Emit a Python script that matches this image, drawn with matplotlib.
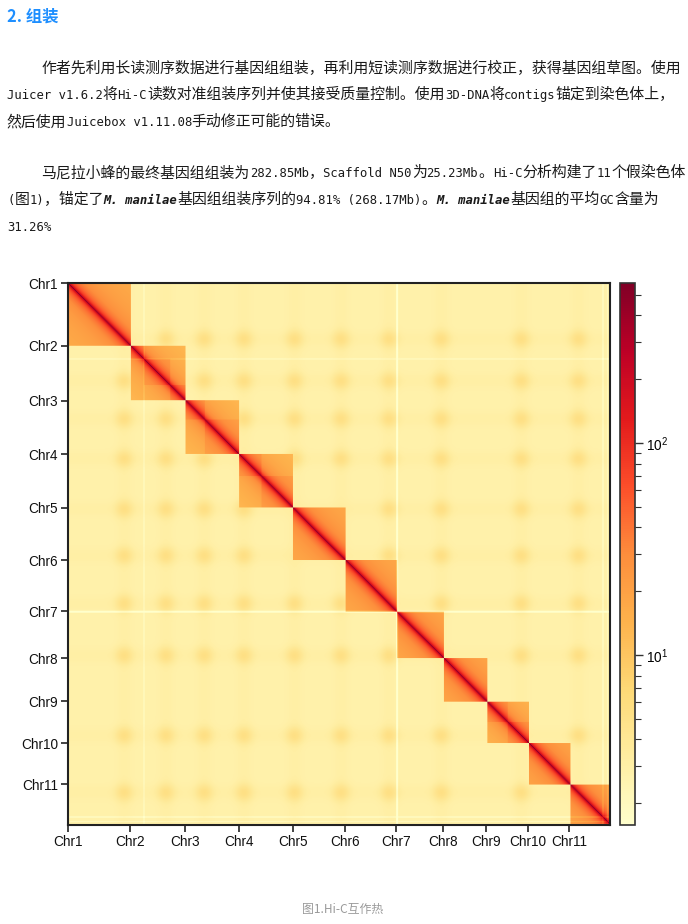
import numpy as np
import matplotlib
matplotlib.use("Agg")
import matplotlib.pyplot as plt
from matplotlib.colors import LogNorm

# ---------------- page text ----------------
heading = "2. 组装"
para_lines = [
    [("作者先利用长读测序数据进行基因组组装，再利用短读测序数据进行校正，获得基因组草图。使用", False)],
    [("Juicer v1.6.2将Hi-C读数对准组装序列并使其接受质量控制。使用3D-DNA将contigs锚定到染色体上，", False)],
    [("然后使用Juicebox v1.11.08手动修正可能的错误。", False)],
    [("马尼拉小蜂的最终基因组组装为282.85Mb，Scaffold N50为25.23Mb。Hi-C分析构建了11个假染色体", False)],
    [("(图1)，锚定了", False), ("M. manilae", True), ("基因组组装序列的94.81% (268.17Mb)。", False),
     ("M. manilae", True), ("基因组的平均GC含量为", False)],
    [("31.26%", False)],
]
caption = "图1.Hi-C互作热"

# ---------------- Hi-C data ----------------
chrom_names = ["Chr1", "Chr2", "Chr3", "Chr4", "Chr5", "Chr6",
               "Chr7", "Chr8", "Chr9", "Chr10", "Chr11"]
chrom_len_mb = [31.1, 27.1, 26.5, 26.5, 26.0, 25.2, 23.1, 21.4, 20.6, 20.4, 20.1]
centromere_mb = [27.7, 48.4, 67.2, 86.9, 111.8, 134.8, 158.5, 184.2, 223.7, 251.9]
subdomain_breaks_mb = [37.5, 50.6, 67.7, 95.3, 217.0]
gap_mb = [37.5, 162.4, 264.0, 266.2]
gap_keep = [0.8, 0.5, 0.75, 0.75]
diag_peak = 480.0
intra_floor = 13.0
inter_base = 2.75
spot_amp = 2.0
band_amp = 0.3
cbar_min, cbar_max = 1.58, 569.0

# ---------------- figure ----------------
W, H = 688, 924
fig = plt.figure(figsize=(W / 100, H / 100), dpi=100)
fig.patch.set_facecolor("white")

CJK = "Noto Sans CJK SC"
MONO = "DejaVu Sans Mono"
CJK_PT = 10.73
LAT_PT = 8.8
cjk_adv = CJK_PT / 72 * 100
lat_adv = LAT_PT / 72 * 100 * 0.6021
TXT = "#1a1a1a"


def split_runs(s):
    runs = []
    for ch in s:
        is_cjk = ord(ch) > 0x2000
        if runs and runs[-1][1] == is_cjk:
            runs[-1][0] += ch
        else:
            runs.append([ch, is_cjk])
    return runs


def draw_line(x_px, base_px, segments):
    x = x_px
    for s, italic in segments:
        for run, is_cjk in split_runs(s):
            if is_cjk:
                fig.text(x / W, 1 - base_px / H, run, family=[CJK, "DejaVu Sans"],
                         size=CJK_PT, color=TXT, va="baseline", ha="left")
                x += len(run) * cjk_adv
            else:
                fig.text(x / W, 1 - base_px / H, run, family=[MONO, CJK],
                         size=LAT_PT, color=TXT, va="baseline", ha="left",
                         style="italic" if italic else "normal",
                         weight="bold" if italic else "normal")
                x += len(run) * lat_adv


fig.text(7 / W, 1 - 22 / H, heading, family=[CJK, "DejaVu Sans"], size=11.8,
         weight="bold", color="#1e8fff", va="baseline", ha="left")

line_x = [41, 7, 7, 41, 7, 7]
line_base = [73, 99, 126, 177, 204, 231]
for segs, lx, lb in zip(para_lines, line_x, line_base):
    draw_line(lx, lb, segs)

# ---------------- matrix ----------------
bin_mb = 0.5
total = float(np.sum(chrom_len_mb))
n = int(np.ceil(total / bin_mb))
pos = (np.arange(n) + 0.5) * bin_mb
starts = np.concatenate([[0.0], np.cumsum(chrom_len_mb)])
cid = np.clip(np.searchsorted(starts, pos, side="right") - 1, 0, len(chrom_len_mb) - 1)
dom_bounds = np.sort(np.concatenate([starts, subdomain_breaks_mb]))
did = np.searchsorted(dom_bounds, pos, side="right") - 1

same_chr = cid[:, None] == cid[None, :]
same_dom = did[:, None] == did[None, :]
d = np.abs(pos[:, None] - pos[None, :])
intra = intra_floor + diag_peak / (1 + d / 0.4) ** 1.1
intra = intra * np.where(same_dom, 1.0, 0.75)

sig = 2.8
inter = np.full((n, n), inter_base)
cen_chr = np.clip(np.searchsorted(starts, centromere_mb, side="right") - 1, 0, len(chrom_len_mb) - 1)
gs = [np.exp(-(pos - a) ** 2 / (2 * sig ** 2)) for a in centromere_mb]
for i, ga in enumerate(gs):
    inter += band_amp * (ga[:, None] + ga[None, :])
    for j, gb in enumerate(gs):
        if cen_chr[i] != cen_chr[j]:
            inter += spot_amp * np.outer(ga, gb)

M = np.where(same_chr, intra, inter)
g = np.ones(n)
for gm, gk in zip(gap_mb, gap_keep):
    g[np.abs(pos - gm) < 0.4] = gk
M = M * g[:, None] * g[None, :]
M = np.clip(M, cbar_min, cbar_max)

ax = fig.add_axes([67.5 / W, 1 - 825 / H, 542.5 / W, 542 / H])
im = ax.imshow(M, cmap="YlOrRd", norm=LogNorm(vmin=cbar_min, vmax=cbar_max),
               extent=(0, n * bin_mb, n * bin_mb, 0), interpolation="antialiased",
               aspect="auto")
ax.set_xlim(0, total)
ax.set_ylim(total, 0)
tick_pos = starts[:-1]
TF = "Liberation Sans"
ax.set_xticks(tick_pos)
ax.set_xticklabels(chrom_names, family=TF, size=9.8)
ax.set_yticks(tick_pos)
ax.set_yticklabels(chrom_names, family=TF, size=9.8)
ax.tick_params(length=5, width=1.2, color="#222222", pad=2, labelcolor="#111111")
for sp in ax.spines.values():
    sp.set_linewidth(1.5)
    sp.set_color("#222222")

cax = fig.add_axes([620 / W, 1 - 825 / H, 15 / W, 542 / H])
cb = fig.colorbar(im, cax=cax)
cb.outline.set_linewidth(1.2)
cb.outline.set_edgecolor("#333333")
cax.tick_params(which="major", length=6, width=1.0, color="#333333", labelsize=9.8, pad=2)
cax.tick_params(which="minor", length=4, width=0.8, color="#333333")
for lab in cax.get_yticklabels():
    lab.set_family(TF)

fig.text(343 / W, 1 - 909 / H, caption, family=[CJK, "DejaVu Sans"], size=8.6,
         color="#9a9a9a", ha="center", va="center")

fig.savefig("out.png", dpi=100, facecolor="white")
